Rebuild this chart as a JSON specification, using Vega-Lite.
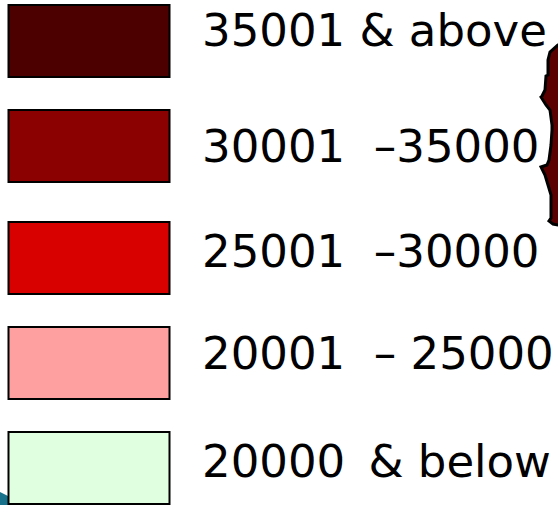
{"$schema":"https://vega.github.io/schema/vega-lite/v6.json","width":558,"height":505,"padding":0,"autosize":{"type":"fit","contains":"padding"},"background":"white","config":{"view":{"stroke":null}},"datasets":{"legend":[{"label":"35001 & above","lower":35001},{"label":"30001\u00a0 –35000","lower":30001},{"label":"25001\u00a0 –30000","lower":25001},{"label":"20001\u00a0 – 25000","lower":20001},{"label":"20000\u2009 & below","lower":15001}],"map":[{"x":558,"y":45,"e":600},{"x":550,"y":52,"e":600},{"x":548,"y":60,"e":600},{"x":548,"y":75,"e":600},{"x":546,"y":76,"e":600},{"x":545,"y":90,"e":600},{"x":542,"y":96,"e":600},{"x":541,"y":97,"e":600},{"x":546,"y":105,"e":600},{"x":550,"y":110,"e":600},{"x":552,"y":125,"e":600},{"x":552,"y":130,"e":600},{"x":551,"y":145,"e":600},{"x":549,"y":160,"e":600},{"x":547,"y":165,"e":600},{"x":541,"y":167,"e":600},{"x":545,"y":175,"e":600},{"x":548,"y":185,"e":600},{"x":551,"y":195,"e":600},{"x":551,"y":218,"e":600},{"x":549,"y":221,"e":600},{"x":553,"y":224,"e":600},{"x":558,"y":225,"e":600}],"corner":[{"x":0,"y":492,"e":0},{"x":8,"y":496,"e":0},{"x":8,"y":505,"e":0}]},"layer":[{"data":{"name":"corner"},"mark":{"type":"area","orient":"horizontal","fill":"#17718a","clip":true},"encoding":{"x":{"field":"x","type":"quantitative","scale":{"domain":[0,558],"nice":false,"zero":false},"axis":null},"x2":{"field":"e"},"y":{"field":"y","type":"quantitative","sort":null,"scale":{"domain":[505,0],"nice":false,"zero":false},"axis":null}}},{"data":{"name":"map"},"mark":{"type":"area","orient":"horizontal","fill":"#5a0000","stroke":"#000000","strokeWidth":3,"clip":true},"encoding":{"x":{"field":"x","type":"quantitative","scale":{"domain":[0,558],"nice":false,"zero":false},"axis":null},"x2":{"field":"e"},"y":{"field":"y","type":"quantitative","sort":null,"scale":{"domain":[505,0],"nice":false,"zero":false},"axis":null}}},{"data":{"name":"legend"},"mark":{"type":"rect","width":161,"height":72,"stroke":"#000000","strokeWidth":2},"encoding":{"x":{"value":89},"y":{"field":"lower","type":"quantitative","scale":{"domain":[35001,30001,25001,20001,15001],"range":[41,146,258,363,468],"nice":false,"zero":false},"axis":null},"fill":{"field":"lower","type":"nominal","legend":null,"scale":{"domain":[35001,30001,25001,20001,15001],"range":["#4d0000","#8b0000","#d90000","#ffa0a0","#e0ffe0"]}}}},{"data":{"name":"legend"},"mark":{"type":"text","align":"left","baseline":"alphabetic","font":"DejaVu Sans","fontSize":45,"color":"#000000","x":202},"encoding":{"y":{"field":"lower","type":"quantitative","scale":{"domain":[35001,30001,25001,20001,15001],"range":[46,162,267,369,477],"nice":false,"zero":false},"axis":null},"text":{"field":"label","type":"nominal"}}}],"resolve":{"scale":{"y":"independent","x":"independent","fill":"independent"}}}
